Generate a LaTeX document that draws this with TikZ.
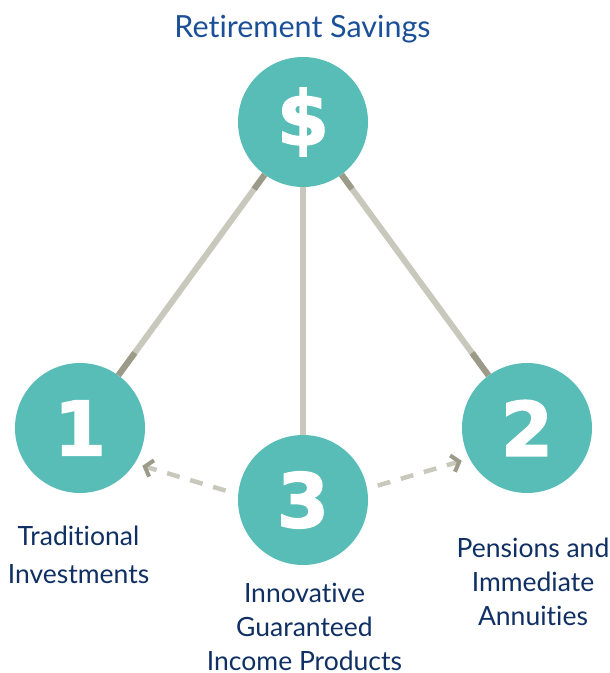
\documentclass[tikz,border=0pt]{standalone}
\usepackage{fontspec}
\setmainfont{Lato}[Ligatures={NoCommon,NoContextual}]
\newfontfamily\digitfont{DejaVu Sans}[BoldFeatures={FakeBold=2}]
\usetikzlibrary{arrows.meta,calc}
\definecolor{teal}{HTML}{57BDB6}
\definecolor{lightline}{HTML}{C9C8BC}
\definecolor{darkline}{HTML}{9C9B8A}
\definecolor{titleblue}{HTML}{1B4F97}
\definecolor{navy}{HTML}{102F63}
\begin{document}
\begin{tikzpicture}[x=1pt,y=-1pt,
  circ/.style={circle,fill=teal,minimum size=130pt,inner sep=0pt,text=white,
    font=\digitfont\bfseries\fontsize{75}{75}\selectfont},
  linkline/.style={lightline,line width=6pt},
  linkdark/.style={darkline,line width=6pt},
  dasharr/.style={lightline,line width=4.5pt,dash pattern=on 13pt off 11pt,
    -{Straight Barb[length=7pt,width=17pt,line width=4pt,color=darkline]}},
  lbl/.style={anchor=base,inner sep=0pt,text=navy},
]
\useasboundingbox (0,0) rectangle (610,673);
% circles
\node[circ] (top) at (303,122) {\$};
\node[circ] (c1) at (80,428) {1};
\node[circ] (c2) at (527,428) {2};
\node[circ] (c3) at (303,500) {3};
% solid connectors
\draw[linkline] (top) -- (c1);
\draw[linkline] (top) -- (c2);
\draw[linkline] (top) -- (c3);
\draw[linkdark] (top) -- ($(top)!83pt!(c1)$);
\draw[linkdark] (top) -- ($(top)!83pt!(c2)$);
\draw[linkdark] (c1) -- ($(c1)!93pt!(top)$);
\draw[linkdark] (c2) -- ($(c2)!93pt!(top)$);
% dashed arrows
\draw[dasharr,shorten <=13pt,shorten >=8pt] (c3.175) -- (c1.-33);
\draw[dasharr,shorten <=11pt,shorten >=8pt] (c3.10) -- (c2.208);
% texts
\node[lbl,text=titleblue,font=\fontsize{30.5}{36}\selectfont] (title) at (302.5,37) {Retirement Savings};
\renewcommand\arraystretch{1}
\setlength\tabcolsep{0pt}
\node[lbl,font=\fontsize{26.5}{38}\selectfont] (l1) at (78.5,545)
  {\begin{tabular}[t]{c}Traditional\\Investments\end{tabular}};
\node[lbl,text depth=0pt,font=\fontsize{26.5}{34}\selectfont] (l3) at (304.5,670)
  {\begin{tabular}[b]{c}Innovative\\Guaranteed\\Income Products\end{tabular}};
\node[lbl,font=\fontsize{26.5}{34}\selectfont] (l2) at (533,557)
  {\begin{tabular}[t]{c}Pensions and\\Immediate\\Annuities\end{tabular}};
\end{tikzpicture}
\end{document}
